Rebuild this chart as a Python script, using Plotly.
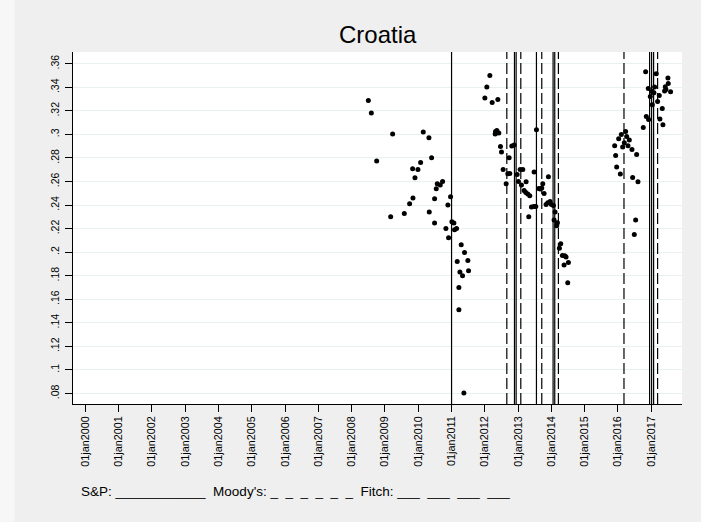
import plotly.graph_objects as go

# Observation dates (decimal years) and spread values
obs_year = [
    2008.50, 2008.59, 2008.75, 2009.17, 2009.23, 2009.58, 2009.74, 2009.84, 2009.83, 2009.90,
    2009.99, 2010.07, 2010.15, 2010.32, 2010.33, 2010.40, 2010.49, 2010.49, 2010.54, 2010.57,
    2010.66, 2010.73, 2010.83, 2010.89, 2010.91, 2010.97,
    2011.01, 2011.07, 2011.09, 2011.15, 2011.17, 2011.22, 2011.22, 2011.25, 2011.29, 2011.33,
    2011.37, 2011.39, 2011.49, 2011.51,
    2012.00, 2012.06, 2012.15, 2012.22, 2012.39, 2012.31, 2012.32, 2012.36, 2012.42, 2012.47,
    2012.50, 2012.55, 2012.64, 2012.69, 2012.73, 2012.75, 2012.81, 2012.88, 2012.97,
    2013.01, 2013.06, 2013.10, 2013.14, 2013.18, 2013.23, 2013.24, 2013.29, 2013.32, 2013.35,
    2013.40, 2013.47, 2013.48, 2013.53, 2013.55, 2013.62, 2013.66, 2013.71, 2013.74, 2013.78,
    2013.84, 2013.89, 2013.91, 2013.96,
    2014.00, 2014.06, 2014.08, 2014.11, 2014.16, 2014.18, 2014.24, 2014.28, 2014.33, 2014.38,
    2014.40, 2014.44, 2014.49, 2014.51,
    2015.90, 2015.93, 2015.96, 2016.02, 2016.07, 2016.10, 2016.14, 2016.19, 2016.23, 2016.26,
    2016.30, 2016.34, 2016.42, 2016.44, 2016.49, 2016.53, 2016.56, 2016.60,
    2016.76, 2016.83, 2016.85, 2016.91, 2016.92, 2016.97, 2017.02, 2017.03, 2017.08, 2017.10,
    2017.15, 2017.19, 2017.24, 2017.26, 2017.33, 2017.35, 2017.40, 2017.42, 2017.44, 2017.50,
    2017.51, 2017.58,
]
obs_value = [
    0.3288, 0.3181, 0.2774, 0.2301, 0.3003, 0.2329, 0.2411, 0.2459, 0.2708, 0.2632,
    0.2702, 0.2762, 0.3020, 0.2972, 0.2341, 0.2802, 0.2453, 0.2247, 0.2538, 0.2581,
    0.2570, 0.2600, 0.2201, 0.2400, 0.2122, 0.2470,
    0.2258, 0.2247, 0.2190, 0.2201, 0.1921, 0.1700, 0.1511, 0.1831, 0.2063, 0.1800,
    0.0803, 0.1997, 0.1929, 0.1842,
    0.3309, 0.3402, 0.3501, 0.3271, 0.3297, 0.3003, 0.3025, 0.3034, 0.3011, 0.2898,
    0.2850, 0.2702, 0.2581, 0.2666, 0.2802, 0.2669, 0.2901, 0.2910, 0.2660,
    0.2600, 0.2702, 0.2570, 0.2702, 0.2524, 0.2507, 0.2598, 0.2493, 0.2301, 0.2479,
    0.2383, 0.2388, 0.2680, 0.2388, 0.3040, 0.2541, 0.2536, 0.2544, 0.2581, 0.2499,
    0.2405, 0.2420, 0.2640, 0.2431,
    0.2405, 0.2397, 0.2273, 0.2341, 0.2224, 0.2250, 0.2032, 0.2071, 0.1972, 0.1890,
    0.1970, 0.1958, 0.1740, 0.1913,
    0.2904, 0.2821, 0.2723, 0.2963, 0.2663, 0.3000, 0.2893, 0.2929, 0.3025, 0.2983,
    0.2904, 0.2952, 0.2872, 0.2634, 0.2150, 0.2273, 0.2830, 0.2598,
    0.3059, 0.3532, 0.3152, 0.3390, 0.3127, 0.3322, 0.3365, 0.3252, 0.3354, 0.3402,
    0.3515, 0.3280, 0.3331, 0.3130, 0.3220, 0.3082, 0.3368, 0.3405, 0.3382, 0.3479,
    0.3433, 0.3362,
]

# Rating-action dates (decimal years)
sp_dates = [2011.00, 2012.89, 2012.94, 2013.55, 2014.05, 2014.10, 2016.95, 2017.01, 2017.07]
fitch_dates = [2012.66, 2013.08, 2013.71, 2014.21, 2016.18, 2017.19]

x_tick_vals = [2000, 2001, 2002, 2003, 2004, 2005, 2006, 2007, 2008,
               2009, 2010, 2011, 2012, 2013, 2014, 2015, 2016, 2017]
x_tick_text = ["01jan2000", "01jan2001", "01jan2002", "01jan2003", "01jan2004",
               "01jan2005", "01jan2006", "01jan2007", "01jan2008", "01jan2009",
               "01jan2010", "01jan2011", "01jan2012", "01jan2013", "01jan2014",
               "01jan2015", "01jan2016", "01jan2017"]
y_tick_vals = [0.08, 0.10, 0.12, 0.14, 0.16, 0.18, 0.20, 0.22, 0.24, 0.26,
               0.28, 0.30, 0.32, 0.34, 0.36]
y_tick_text = [".08", ".1", ".12", ".14", ".16", ".18", ".2", ".22", ".24", ".26",
               ".28", ".3", ".32", ".34", ".36"]

FONT = "Liberation Sans, Arial, sans-serif"
W, H = 701, 522
L, R, T, B = 73.3, 19, 52.3, 117.7
PW, PH = W - L - R, H - T - B

fig = go.Figure()
fig.add_trace(go.Scatter(
    x=obs_year, y=obs_value, mode="markers",
    marker=dict(size=5, color="black", line=dict(width=0)),
    showlegend=False, hoverinfo="x+y",
))

shapes = []
for d in sp_dates:
    shapes.append(dict(type="line", xref="x", yref="paper", x0=d, x1=d, y0=0, y1=1,
                       line=dict(color="black", width=1.2, dash="solid"), layer="above"))
for d in fitch_dates:
    shapes.append(dict(type="line", xref="x", yref="paper", x0=d, x1=d, y0=0, y1=1,
                       line=dict(color="black", width=1.2, dash="11px,4px"), layer="above"))

# lighter strip along the left edge of the page
shapes.append(dict(type="rect", xref="paper", yref="paper",
                   x0=(0 - L) / PW, x1=(15 - L) / PW, y0=-B / PH, y1=(H - B) / PH,
                   fillcolor="#f7f7f7", line=dict(width=0), layer="below"))

fig.update_layout(
    width=W, height=H,
    margin=dict(l=L, r=R, t=T, b=B, pad=0),
    paper_bgcolor="#efefef", plot_bgcolor="white",
    font=dict(family=FONT, color="black"),
    title=dict(text="Croatia", x=(L + PW / 2) / W, xanchor="center",
               y=1 - 35 / H, yanchor="middle", yref="container",
               font=dict(size=24, family=FONT, color="black")),
    shapes=shapes,
    showlegend=False,
    xaxis=dict(
        range=[1999.627, 2017.923], tickmode="array", tickvals=x_tick_vals,
        ticktext=x_tick_text, tickangle=-90, ticks="outside", ticklen=7,
        tickcolor="black", tickwidth=1, showgrid=False, zeroline=False,
        showline=True, linecolor="black", linewidth=1, mirror=False,
        tickfont=dict(size=10.8, family=FONT, color="black"),
    ),
    yaxis=dict(
        range=[0.071, 0.370], tickmode="array", tickvals=y_tick_vals,
        ticktext=y_tick_text, tickangle=-90, ticks="outside", ticklen=7,
        tickcolor="black", tickwidth=1, showgrid=True, gridcolor="#e8f0f2",
        gridwidth=1, zeroline=False, showline=True, linecolor="black",
        linewidth=1, mirror=False, ticklabelstandoff=2,
        tickfont=dict(size=10.5, family=FONT, color="black"),
    ),
    annotations=[dict(
        text=("S&P:\u00a0____________\u00a0\u00a0Moody's:\u00a0_\u00a0\u00a0_\u00a0\u00a0_"
              "\u00a0\u00a0_\u00a0\u00a0_\u00a0\u00a0_\u00a0\u00a0Fitch:\u00a0___\u00a0\u00a0___"
              "\u00a0\u00a0___\u00a0\u00a0___"),
        xref="paper", yref="paper", x=(79.6 - L) / PW, y=(H - B - 492) / PH,
        xanchor="left", yanchor="middle", showarrow=False,
        font=dict(size=13.5, family=FONT, color="black"),
    )],
)

fig.write_html("out.html")
